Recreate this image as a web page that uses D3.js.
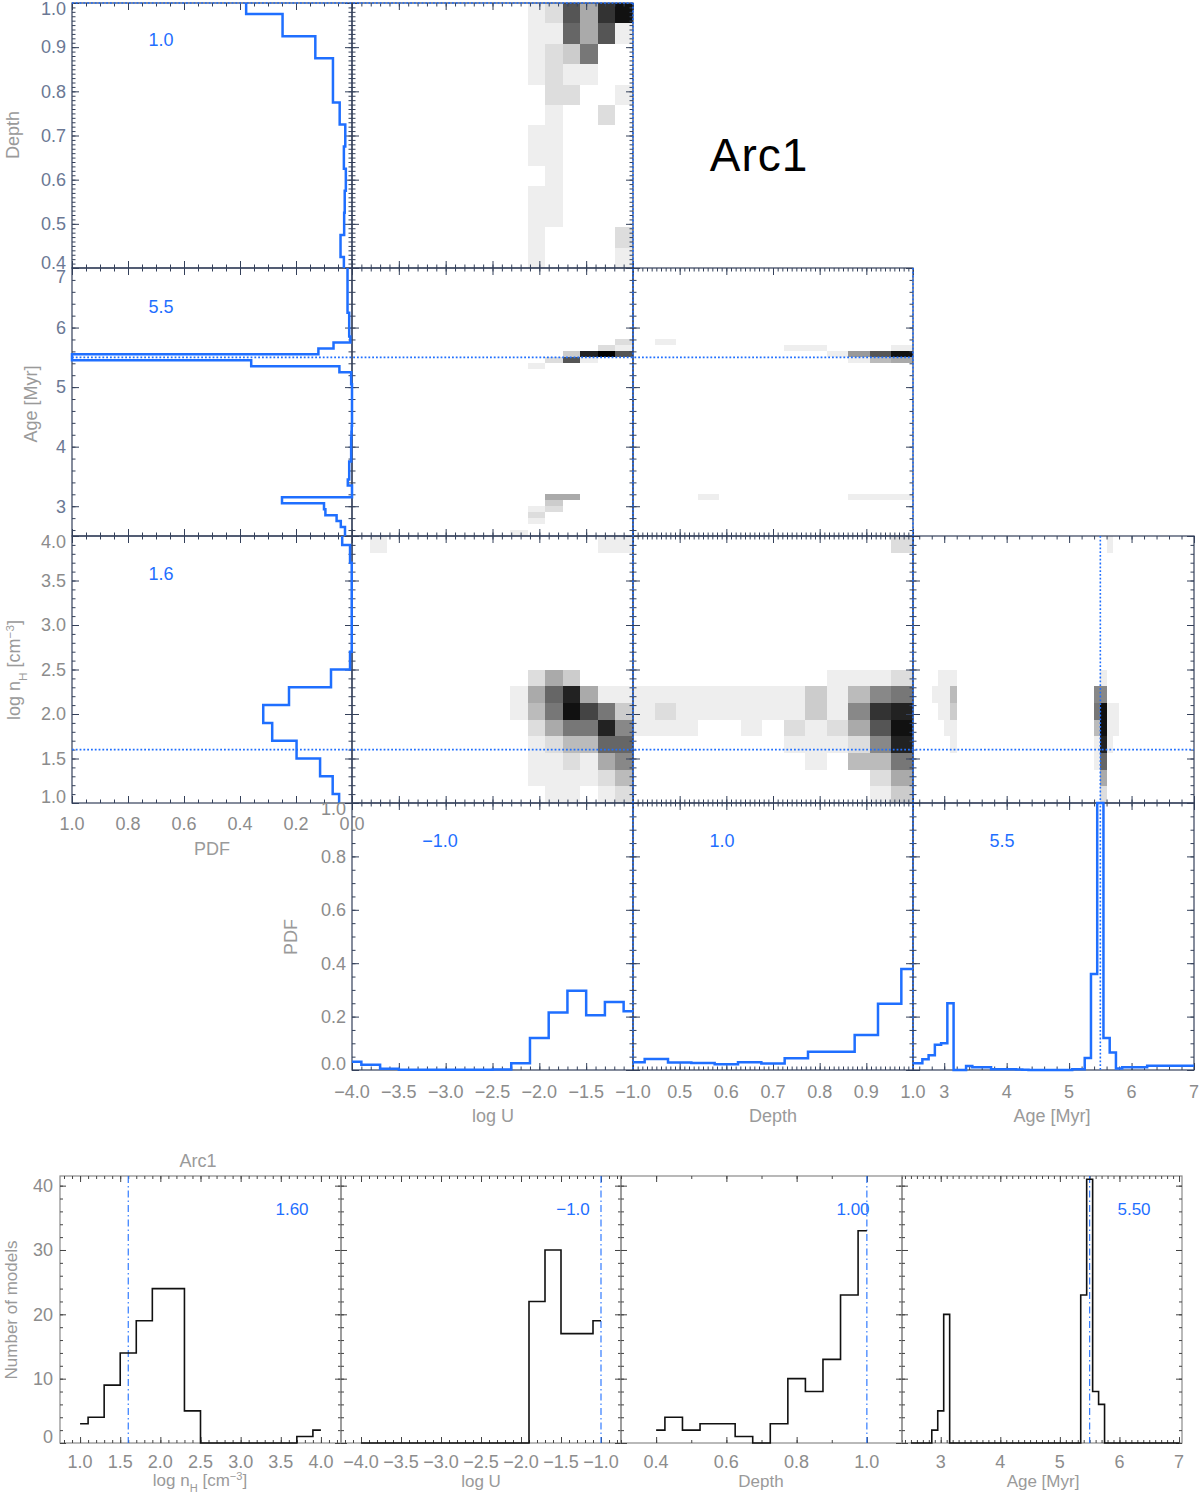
<!DOCTYPE html>
<html>
<head>
<meta charset="utf-8">
<script src="https://cdn.jsdelivr.net/npm/d3@7"></script>
<style>
  body { margin: 0; background: #fff; }
  svg text { font-family: "Liberation Sans", Arial, sans-serif; }
</style>
</head>
<body>
<svg id="chart" width="1200" height="1494"></svg>
<script>
// ---------- data ----------
const nhBins = [1.0, 1.2, 1.4, 1.6, 1.8, 2.0, 2.2, 2.4, 2.6, 2.8, 3.0, 3.2, 3.4, 3.6, 3.8, 4.0];
const logUBins = [-4.0, -3.8, -3.6, -3.4, -3.2, -3.0, -2.8, -2.6, -2.4, -2.2, -2.0, -1.8, -1.6, -1.4, -1.2, -1.0];
const depthBins = [0.40, 0.45, 0.50, 0.55, 0.60, 0.65, 0.70, 0.75, 0.80, 0.85, 0.90, 0.95, 1.00];
const ageBins = [2.5, 2.6, 2.7, 2.8, 2.9, 3.0, 3.1, 3.2, 3.3, 3.4, 3.5, 3.6, 3.7, 3.8, 3.9, 4.0,
  4.1, 4.2, 4.3, 4.4, 4.5, 4.6, 4.7, 4.8, 4.9, 5.0, 5.1, 5.2, 5.3, 5.4, 5.5, 5.6, 5.7, 5.8,
  5.9, 6.0, 6.1, 6.2, 6.3, 6.4, 6.5, 6.6, 6.7, 6.8, 6.9, 7.0];

// marginal PDFs
const pdfNh = [0.046, 0.069, 0.114, 0.198, 0.285, 0.317, 0.225, 0.075, 0.007, 0.001, 0.001, 0.001, 0.001, 0.001, 0.007, 0.035];
const pdfLogU = [0.031, 0.02, 0.005, 0.001, 0.001, 0.001, 0.001, 0.001, 0.002, 0.025, 0.12, 0.215, 0.297, 0.205, 0.255, 0.22];
const pdfDepth = [0.029, 0.041, 0.028, 0.026, 0.022, 0.029, 0.024, 0.044, 0.068, 0.068, 0.131, 0.248, 0.378];
const pdfAge = [0.025, 0.025, 0.04, 0.055, 0.095, 0.10, 0.25, 0, 0, 0.015, 0.01, 0.01, 0.01, 0.003,
  0.003, 0.003, 0.003, 0.002, 0.001, 0, 0, 0, 0, 0, 0, 0, 0.003, 0.003, 0.045, 0.36, 1.0, 0.12,
  0.066, 0.006, 0.01, 0.01, 0.01, 0.01, 0.016, 0.016, 0.016, 0.016, 0.016, 0.016, 0.016, 0.016];

// number of models per bin (lower row)
const countNh = [3, 4, 9, 14, 19, 24, 24, 5, 0, 0, 0, 0, 0, 0, 1, 2];
const countLogU = [0, 0, 0, 0, 0, 0, 0, 0, 0, 0, 0, 22, 30, 17, 17, 19];
const countDepth = [2, 4, 2, 3, 3, 1, 0, 3, 10, 8, 13, 23, 33];
const countAge = [0, 0, 0, 0, 2, 5, 20, 0, 0, 0, 0, 0, 0, 0, 0, 0, 0, 0, 0, 0, 0, 0, 0, 0, 0, 0,
  0, 0, 0, 23, 41, 8, 6, 0, 0, 0, 0, 0, 0, 0, 0, 0, 0, 0, 0, 0];

// best values
const bestNh = 1.6;
const bestLogU = -1.0;
const bestDepth = 1.0;
const bestAge = 5.5;

// 2D grids: [x cell, y cell, weight 0-15]; cells counted from the lower-left
const gridUDepth = [
  [10,12,1],[11,12,2],[12,12,10],[13,12,5],[14,12,12],[15,12,14],
  [10,11,1],[11,11,1],[12,11,9],[13,11,5],[14,11,10],[15,11,1],
  [10,10,1],[11,10,2],[12,10,3],[13,10,8],
  [10,9,1],[11,9,2],[12,9,1],[13,9,1],
  [11,8,2],[12,8,2],[15,8,1],
  [11,7,1],[14,7,2],
  [10,6,1],[11,6,1],
  [10,5,1],[11,5,1],
  [11,4,1],
  [10,3,1],[11,3,1],
  [10,2,1],[11,2,1],
  [10,1,1],[15,1,2],
  [10,0,1],[15,0,1]
];
const gridUAge = [
  [15,32,2],
  [14,31,2],[15,31,1],
  [12,30,3],[13,30,13],[14,30,15],[15,30,10],
  [11,29,2],[12,29,10],[13,29,1],
  [10,28,1],
  [11,6,5],[12,6,5],
  [11,5,3],
  [10,4,1],[11,4,2],
  [10,3,2],
  [10,2,1],
  [9,0,1]
];
const gridDepthAge = [
  [1,32,1],
  [7,31,1],[8,31,1],[12,31,1],
  [9,30,1],[10,30,6],[11,30,10],[12,30,14],
  [10,29,1],[11,29,4],[12,29,5],
  [3,6,1],[10,6,1],[11,6,1],[12,6,1]
];
const gridUNh = [
  [1,15,1],[14,15,1],[15,15,1],
  [10,7,2],[11,7,5],[12,7,3],
  [9,6,1],[10,6,5],[11,6,9],[12,6,13],[13,6,5],[14,6,1],[15,6,1],
  [9,5,1],[10,5,4],[11,5,8],[12,5,14],[13,5,11],[14,5,8],[15,5,3],
  [10,4,2],[11,4,5],[12,4,8],[13,4,8],[14,4,13],[15,4,7],
  [10,3,1],[11,3,2],[12,3,4],[13,3,4],[14,3,9],[15,3,9],
  [10,2,1],[11,2,1],[12,2,2],[13,2,1],[14,2,5],[15,2,7],
  [10,1,1],[11,1,1],[12,1,1],[13,1,1],[14,1,2],[15,1,4],
  [11,0,1],[12,0,1],[14,0,1],[15,0,2]
];
const gridDepthNh = [
  [12,15,2],
  [9,7,1],[10,7,1],[11,7,1],[12,7,2],
  [0,6,1],[1,6,1],[2,6,1],[3,6,1],[4,6,1],[5,6,1],[6,6,1],[7,6,1],[8,6,3],[9,6,1],[10,6,4],[11,6,7],[12,6,8],
  [0,5,1],[1,5,2],[2,5,1],[3,5,1],[4,5,1],[5,5,1],[6,5,1],[7,5,1],[8,5,3],[9,5,1],[10,5,7],[11,5,12],[12,5,13],
  [0,4,1],[1,4,1],[2,4,1],[5,4,1],[7,4,2],[8,4,1],[9,4,2],[10,4,5],[11,4,10],[12,4,14],
  [7,3,1],[8,3,1],[9,3,1],[10,3,2],[11,3,7],[12,3,13],
  [8,2,1],[10,2,4],[11,2,4],[12,2,8],
  [11,1,2],[12,1,5],
  [11,0,1],[12,0,3]
];
const gridAgeNh = [
  [31,15,1],
  [4,7,1],[5,7,1],[6,7,1],[30,7,1],
  [3,6,1],[4,6,1],[5,6,1],[6,6,4],[29,6,7],[30,6,7],
  [4,5,1],[5,5,1],[6,5,3],[29,5,8],[30,5,14],[31,5,1],[32,5,1],
  [5,4,1],[6,4,1],[29,4,4],[30,4,14],[31,4,1],[32,4,1],
  [6,3,1],[29,3,1],[30,3,13],[31,3,1],
  [29,2,1],[30,2,9],
  [30,1,5],
  [30,0,2]
];
const cellsLogU = 16, cellsDepth = 13, cellsAge = 45, cellsNh = 16;

// tick labels
const ticksLogU = [-4.0, -3.5, -3.0, -2.5, -2.0, -1.5, -1.0];
const ticksDepth = [0.4, 0.5, 0.6, 0.7, 0.8, 0.9, 1.0];
const ticksAge = [3, 4, 5, 6, 7];
const ticksNh = [1.0, 1.5, 2.0, 2.5, 3.0, 3.5, 4.0];
const ticksPdf = [0.0, 0.2, 0.4, 0.6, 0.8, 1.0];
const ticksCount = [0, 10, 20, 30, 40];
const ticksDepthHist = [0.4, 0.6, 0.8, 1.0];

// ---------- setup ----------
const svg = d3.select("#chart");
const blue = "#1f6fff";
const frameColor = "#34405a";
const labelGrey = "#8c8c8c";
const labelSlate = "#6b7894";
const titleGrey = "#9a9a9a";
const grey = d3.scaleLinear().domain([0, 15]).range(["#ffffff", "#000000"]);
const f1 = d3.format(".1f"), f0 = d3.format("d"), f2 = d3.format(".2f");

const colX = [72, 352, 633, 913, 1194];
const rowY = [3, 268, 536, 803, 1070];

const xPdf = d3.scaleLinear().domain([1, 0]).range([colX[0], colX[1]]);
const xU = d3.scaleLinear().domain([-4, -1]).range([colX[1], colX[2]]);
const xDepth = d3.scaleLinear().domain([0.4, 1.0]).range([colX[2], colX[3]]);
const xAge = d3.scaleLinear().domain([2.5, 7]).range([colX[3], colX[4]]);
const yDepth = d3.scaleLinear().domain([0.4, 1.0]).range([rowY[1], rowY[0]]);
const yAge = d3.scaleLinear().domain([2.5, 7]).range([rowY[2], rowY[1]]);
const yNh = d3.scaleLinear().domain([1, 4]).range([rowY[3], rowY[2]]);
const yPdf = d3.scaleLinear().domain([0, 1]).range([rowY[4], rowY[3]]);

const bandU = d3.scaleBand().domain(d3.range(cellsLogU)).range([colX[1], colX[2]]);
const bandDepthX = d3.scaleBand().domain(d3.range(cellsDepth)).range([colX[2], colX[3]]);
const bandAgeX = d3.scaleBand().domain(d3.range(cellsAge)).range([colX[3], colX[4]]);
const bandDepthY = d3.scaleBand().domain(d3.range(cellsDepth)).range([rowY[1], rowY[0]]);
const bandAgeY = d3.scaleBand().domain(d3.range(cellsAge)).range([rowY[2], rowY[1]]);
const bandNhY = d3.scaleBand().domain(d3.range(cellsNh)).range([rowY[3], rowY[2]]);

function minorTicks(scale, step) {
  const [a, b] = d3.extent(scale.domain());
  const out = [];
  for (let v = Math.ceil(a / step - 1e-6) * step; v <= b + 1e-9; v += step) out.push(+v.toFixed(4));
  return out;
}

function ticks(scale, side, pos, majors, step, color, lenMaj, lenMin) {
  const make = { left: d3.axisLeft, right: d3.axisRight, top: d3.axisTop, bottom: d3.axisBottom }[side];
  const tr = (side === "left" || side === "right") ? `translate(${pos},0)` : `translate(0,${pos})`;
  [[minorTicks(scale, step), lenMin], [majors, lenMaj]].forEach(([vals, len]) => {
    const g = svg.append("g").attr("transform", tr)
      .call(make(scale).tickValues(vals).tickSize(-len).tickSizeOuter(0).tickFormat(""));
    g.select(".domain").remove();
    g.selectAll("line").attr("stroke", color).attr("stroke-width", 1);
  });
}

// end labels sit a little inside the frame, as in the original
function yLabels(scale, vals, x, fmt, color, inTop = 6, inBot = 6) {
  const [lo, hi] = d3.extent(scale.domain());
  const dir = scale(hi) < scale(lo) ? 1 : -1;
  svg.append("g").selectAll("text").data(vals).join("text")
    .attr("x", x)
    .attr("y", d => scale(d) + (Math.abs(d - hi) < 1e-9 ? inTop * dir : Math.abs(d - lo) < 1e-9 ? -inBot * dir : 0))
    .attr("dy", "0.35em").attr("text-anchor", "end")
    .attr("font-size", 18).attr("fill", color).text(fmt);
}

function xLabels(scale, vals, y, fmt, color) {
  svg.append("g").selectAll("text").data(vals).join("text")
    .attr("x", d => scale(d)).attr("y", y).attr("dy", "0.35em")
    .attr("text-anchor", "middle").attr("font-size", 18).attr("fill", color).text(fmt);
}

function stepPts(c, v) {
  const pts = [];
  c.forEach((ci, i) => {
    const lo = i === 0 ? ci : (c[i - 1] + ci) / 2;
    const hi = i === c.length - 1 ? ci : (ci + c[i + 1]) / 2;
    pts.push([lo, v[i]], [hi, v[i]]);
  });
  return pts;
}

function heat(cells, bx, by) {
  svg.append("g").attr("shape-rendering", "crispEdges")
    .selectAll("rect").data(cells).join("rect")
    .attr("x", d => bx(d[0])).attr("y", d => by(d[1]))
    .attr("width", bx.bandwidth()).attr("height", by.bandwidth())
    .attr("fill", d => grey(d[2]));
}

function vtext(x, y, parts, color, size) {
  const t = svg.append("text").attr("transform", `translate(${x},${y}) rotate(-90)`)
    .attr("text-anchor", "middle").attr("font-size", size).attr("fill", color);
  parts.forEach(p => t.append("tspan").attr("baseline-shift", p[1] || null)
    .attr("font-size", p[1] ? size * 0.65 : null).text(p[0]));
  return t;
}
function htext(x, y, parts, color, size) {
  const t = svg.append("text").attr("x", x).attr("y", y)
    .attr("text-anchor", "middle").attr("font-size", size).attr("fill", color);
  parts.forEach(p => t.append("tspan").attr("baseline-shift", p[1] || null)
    .attr("font-size", p[1] ? size * 0.65 : null).text(p[0]));
  return t;
}

// ---------- corner plot ----------
const xSpec = [
  { s: xPdf, maj: ticksPdf, step: 0.05 },
  { s: xU, maj: ticksLogU, step: 0.1 },
  { s: xDepth, maj: ticksDepth, step: 0.01 },
  { s: xAge, maj: ticksAge, step: 0.2 }
];
const ySpec = [
  { s: yDepth, maj: ticksDepth, step: 0.01 },
  { s: yAge, maj: ticksAge, step: 0.2 },
  { s: yNh, maj: ticksNh, step: 0.1 },
  { s: yPdf, maj: ticksPdf, step: 0.05 }
];
const panels = [[0, 0], [0, 1], [1, 0], [1, 1], [1, 2], [2, 0], [2, 1], [2, 2], [2, 3], [3, 1], [3, 2], [3, 3]];

// heat maps
heat(gridUDepth, bandU, bandDepthY);
heat(gridUAge, bandU, bandAgeY);
heat(gridDepthAge, bandDepthX, bandAgeY);
heat(gridUNh, bandU, bandNhY);
heat(gridDepthNh, bandDepthX, bandNhY);
heat(gridAgeNh, bandAgeX, bandNhY);

// frames and ticks
panels.forEach(([r, c]) => {
  const xs = xSpec[c], ys = ySpec[r];
  svg.append("rect").attr("x", colX[c]).attr("y", rowY[r])
    .attr("width", colX[c + 1] - colX[c]).attr("height", rowY[r + 1] - rowY[r])
    .attr("fill", "none").attr("stroke", frameColor).attr("stroke-width", 1.2);
  ticks(xs.s, "bottom", rowY[r + 1], xs.maj, xs.step, frameColor, 7, 3.5);
  ticks(xs.s, "top", rowY[r], xs.maj, xs.step, frameColor, 7, 3.5);
  ticks(ys.s, "left", colX[c], ys.maj, ys.step, frameColor, 7, 3.5);
  ticks(ys.s, "right", colX[c + 1], ys.maj, ys.step, frameColor, 7, 3.5);
});

// marginal PDFs (left column drawn sideways)
const line = d3.line();
function pdfPath(pts) {
  svg.append("path").attr("d", line(pts)).attr("fill", "none")
    .attr("stroke", blue).attr("stroke-width", 2.5).attr("stroke-linejoin", "miter");
}
pdfPath(stepPts(depthBins, pdfDepth).map(p => [xPdf(p[1]), yDepth(p[0])]));
pdfPath(stepPts(ageBins, pdfAge).map(p => [xPdf(p[1]), yAge(p[0])]));
pdfPath(stepPts(nhBins, pdfNh).map(p => [xPdf(p[1]), yNh(p[0])]));
pdfPath(stepPts(logUBins, pdfLogU).map(p => [xU(p[0]), yPdf(p[1])]));
pdfPath(stepPts(depthBins, pdfDepth).map(p => [xDepth(p[0]), yPdf(p[1])]));
pdfPath(stepPts(ageBins, pdfAge).map(p => [xAge(p[0]), yPdf(p[1])]));

// best-value dotted lines
function dotted(x1, y1, x2, y2) {
  svg.append("line").attr("x1", x1).attr("y1", y1).attr("x2", x2).attr("y2", y2)
    .attr("stroke", blue).attr("stroke-width", 1.6).attr("stroke-dasharray", "1.8,2");
}
dotted(colX[0], yDepth(bestDepth), colX[2], yDepth(bestDepth));
dotted(colX[0], yAge(bestAge), colX[3], yAge(bestAge));
dotted(colX[0], yNh(bestNh), colX[4], yNh(bestNh));
dotted(xU(bestLogU), rowY[0], xU(bestLogU), rowY[4]);
dotted(xDepth(bestDepth), rowY[1], xDepth(bestDepth), rowY[4]);
dotted(xAge(bestAge), rowY[2], xAge(bestAge), rowY[4]);

// tick labels
yLabels(yDepth, ticksDepth, colX[0] - 6, f1, labelSlate, 6, 5);
yLabels(yAge, ticksAge, colX[0] - 6, f0, labelSlate, 9, 6);
yLabels(yNh, ticksNh, colX[0] - 6, f1, labelGrey);
yLabels(yPdf, ticksPdf, colX[1] - 6, f1, labelGrey);
xLabels(xPdf, ticksPdf, rowY[3] + 21, f1, labelGrey);
xLabels(xU, ticksLogU, rowY[4] + 22, f1, labelGrey);
xLabels(xDepth, ticksDepth.filter(d => d > 0.45), rowY[4] + 22, f1, labelGrey);
xLabels(xAge, ticksAge, rowY[4] + 22, f0, labelGrey);

// axis titles
vtext(19, 135, [["Depth"]], titleGrey, 18);
vtext(37, 404, [["Age  [Myr]"]], titleGrey, 18);
vtext(20, 670, [["log n"], ["H", "sub"], ["  [cm"], ["−3", "super"], ["]"]], titleGrey, 18);
htext(212, 855, [["PDF"]], titleGrey, 18);
vtext(297, 937, [["PDF"]], titleGrey, 18);
htext(493, 1122, [["log  U"]], titleGrey, 18);
htext(773, 1122, [["Depth"]], titleGrey, 18);
htext(1052, 1122, [["Age  [Myr]"]], titleGrey, 18);

// best values printed in the diagonal panels
const diagLabels = [
  [colX[0] + 89, rowY[0] + 43, f1(bestDepth)],
  [colX[0] + 89, rowY[1] + 45, f1(bestAge)],
  [colX[0] + 89, rowY[2] + 44, f1(bestNh)],
  [colX[1] + 88, rowY[3] + 44, f1(bestLogU)],
  [colX[2] + 89, rowY[3] + 44, f1(bestDepth)],
  [colX[3] + 89, rowY[3] + 44, f1(bestAge)]
];
diagLabels.forEach(d => htext(d[0], d[1], [[d[2]]], blue, 18));

svg.append("text").attr("x", 759).attr("y", 171).attr("text-anchor", "middle")
  .attr("font-size", 46).attr("fill", "#000").attr("letter-spacing", 1).text("Arc1");

// ---------- lower row: number of models ----------
const bx = [60, 341, 621, 902, 1182];
const bTop = 1176, bBot = 1443;
const yCnt = d3.scaleLinear().domain([0, 41.5]).range([bBot, bTop]);
const hists = [
  { s: d3.scaleLinear().domain([0.75, 4.25]).range([bx[0], bx[1]]), c: nhBins, v: countNh, maj: ticksNh, step: 0.1, fmt: f1, best: bestNh, bf: f2 },
  { s: d3.scaleLinear().domain([-4.25, -0.75]).range([bx[1], bx[2]]), c: logUBins, v: countLogU, maj: ticksLogU, step: 0.1, fmt: f1, best: bestLogU, bf: f1 },
  { s: d3.scaleLinear().domain([0.3, 1.1]).range([bx[2], bx[3]]), c: depthBins, v: countDepth, maj: ticksDepthHist, step: 0.1, fmt: f1, best: bestDepth, bf: f2 },
  { s: d3.scaleLinear().domain([2.35, 7.05]).range([bx[3], bx[4]]), c: ageBins, v: countAge, maj: ticksAge, step: 0.1, fmt: f0, best: bestAge, bf: f2 }
];
hists.forEach((h, i) => {
  svg.append("rect").attr("x", bx[i]).attr("y", bTop).attr("width", bx[i + 1] - bx[i])
    .attr("height", bBot - bTop).attr("fill", "none").attr("stroke", "#8a8a8a").attr("stroke-width", 1.2);
  ticks(h.s, "bottom", bBot, h.maj, h.step, "#444", 6, 3);
  ticks(h.s, "top", bTop, h.maj, h.step, "#444", 6, 3);
  ticks(yCnt, "left", bx[i], ticksCount, 2, "#444", 6, 3);
  ticks(yCnt, "right", bx[i + 1], ticksCount, 2, "#444", 6, 3);
  svg.append("line").attr("x1", h.s(h.best)).attr("x2", h.s(h.best)).attr("y1", bTop).attr("y2", bBot)
    .attr("stroke", blue).attr("stroke-width", 1.1).attr("stroke-dasharray", "7,3,1.5,3");
  svg.append("path").attr("d", line(stepPts(h.c, h.v).map(p => [h.s(p[0]), yCnt(p[1])])))
    .attr("fill", "none").attr("stroke", "#111").attr("stroke-width", 1.6);
  xLabels(h.s, h.maj, bBot + 19, h.fmt, labelGrey);
  htext(bx[i] + 232, 1215, [[h.bf(h.best)]], blue, 17);
});
yLabels(yCnt, ticksCount, bx[0] - 7, f0, labelGrey);

htext(198, 1167, [["Arc1"]], titleGrey, 18);
vtext(17, 1310, [["Number  of  models"]], titleGrey, 17);
htext(200, 1486, [["log  n"], ["H", "sub"], ["  [cm"], ["−3", "super"], ["]"]], titleGrey, 17);
htext(481, 1487, [["log  U"]], titleGrey, 17);
htext(761, 1487, [["Depth"]], titleGrey, 17);
htext(1043, 1487, [["Age  [Myr]"]], titleGrey, 17);
</script>
</body>
</html>
